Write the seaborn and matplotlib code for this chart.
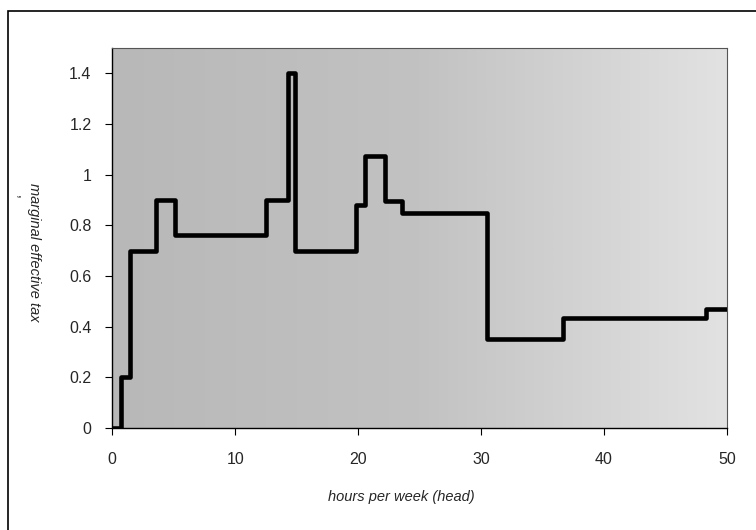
import numpy as np
import pandas as pd
import matplotlib
matplotlib.use("Agg")
import matplotlib.pyplot as plt
import seaborn as sns
from matplotlib.patches import Rectangle
from matplotlib.colors import LinearSegmentedColormap

# step edges (hours per week) and marginal effective tax from each edge on
hours = [0, 0.7, 1.45, 3.55, 5.1, 12.5, 14.3, 14.9, 19.8, 20.55, 22.2, 23.55, 30.5, 36.65, 48.3, 50]
tax = [0, 0.2, 0.7, 0.9, 0.76, 0.9, 1.4, 0.7, 0.88, 1.075, 0.895, 0.85, 0.35, 0.435, 0.47, 0.47]

x_ticks = [0, 10, 20, 30, 40, 50]
y_ticks = [0, 0.2, 0.4, 0.6, 0.8, 1, 1.2, 1.4]
y_tick_labels = ["0", "0.2", "0.4", "0.6", "0.8", "1", "1.2", "1.4"]

sns.set_style("white")
plt.rcParams['font.family'] = ['Liberation Sans', 'DejaVu Sans']

df = pd.DataFrame({"hours": hours, "tax": tax})

fig = plt.figure(figsize=(7.56, 5.30), dpi=100)
ax = fig.add_axes([112.3 / 756, 102 / 530, 614.7 / 756, 380 / 530])

# grey speckled background, approximated with a soft gradient
bg = LinearSegmentedColormap.from_list("bg", ["#b8b8b8", "#c2c2c2", "#e2e2e2"])
grad = np.linspace(0, 1, 256).reshape(1, -1)
ax.imshow(grad, cmap=bg, aspect="auto", extent=[0, 1, 0, 1],
          transform=ax.transAxes, zorder=0, interpolation="bicubic")

sns.lineplot(data=df, x="hours", y="tax", ax=ax, estimator=None,
             drawstyle="steps-post", color="black", linewidth=3.3, zorder=3)

ax.set_xlim(0, 50)
ax.set_ylim(0, 1.5)
ax.set_xticks(x_ticks)
ax.set_xticklabels([str(t) for t in x_ticks])
ax.set_yticks(y_ticks)
ax.set_yticklabels(y_tick_labels)
ax.tick_params(axis="both", which="major", direction="out", length=5, width=0.8,
               color="black", labelsize=11.5, pad=10, bottom=True, left=True)
ax.tick_params(axis="x", pad=12)

for side in ["left", "bottom"]:
    ax.spines[side].set_color("black")
    ax.spines[side].set_linewidth(1.0)
for side in ["top", "right"]:
    ax.spines[side].set_color("#555555")
    ax.spines[side].set_linewidth(0.8)

ax.set_xlabel("hours per week (head)", fontstyle="italic", fontsize=10.5)
ax.xaxis.set_label_coords((401 - 112.3) / 614.7, -(490 - 428) / 380)
ax.set_ylabel("marginal effective tax", fontstyle="italic", fontsize=10.5,
              rotation=270, va="center", ha="center")
ax.yaxis.set_label_coords(-(112.3 - 34) / 614.7, (428 - 252) / 380)

fig.text(21 / 756, 1 - 197 / 530, ",", fontsize=10, rotation=270,
         ha="center", va="center")

# outer chart frame
fig.patches.append(Rectangle((8 / 756, -0.05), 1.2, 1 - 11 / 530 + 0.05,
                             transform=fig.transFigure, fill=False,
                             edgecolor="black", linewidth=1.2, zorder=0))

fig.savefig("out.png", dpi=100)
